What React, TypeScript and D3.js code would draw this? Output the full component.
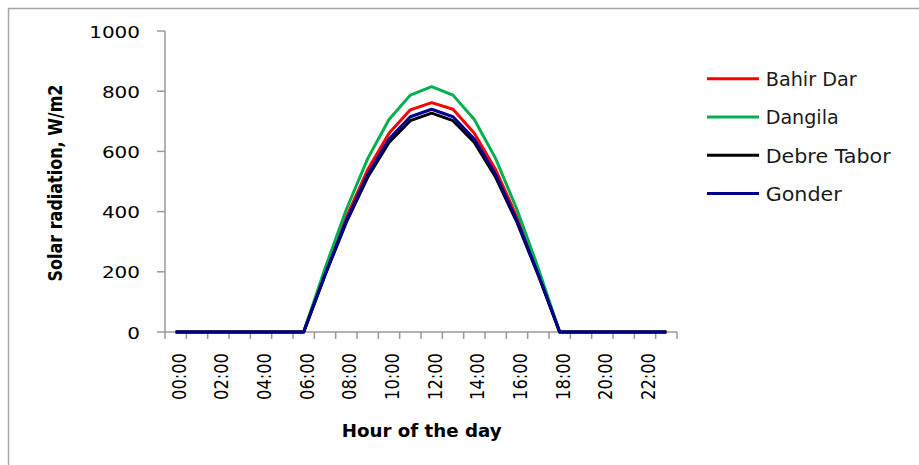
import React from "react";
import * as d3 from "d3";

const categories = [
  "00:00", "01:00", "02:00", "03:00", "04:00", "05:00", "06:00", "07:00",
  "08:00", "09:00", "10:00", "11:00", "12:00", "13:00", "14:00", "15:00",
  "16:00", "17:00", "18:00", "19:00", "20:00", "21:00", "22:00", "23:00",
];
const bahirDar = [0, 0, 0, 0, 0, 0, 0, 197, 381, 539, 660, 738, 762, 740, 660, 539, 381, 197, 0, 0, 0, 0, 0, 0];
const dangila = [0, 0, 0, 0, 0, 0, 0, 211, 407, 576, 706, 787, 815, 787, 706, 576, 407, 211, 0, 0, 0, 0, 0, 0];
const debreTabor = [0, 0, 0, 0, 0, 0, 0, 188, 364, 514, 630, 702, 727, 702, 630, 514, 364, 188, 0, 0, 0, 0, 0, 0];
const gonder = [0, 0, 0, 0, 0, 0, 0, 191, 370, 523, 641, 715, 740, 715, 641, 523, 370, 191, 0, 0, 0, 0, 0, 0];
const yTicks = [0, 200, 400, 600, 800, 1000];
const seriesNames = ["Bahir Dar", "Dangila", "Debre Tabor", "Gonder"];
const seriesColors = ["#ff0000", "#00b050", "#000000", "#000090"];

const FONT = "'DejaVu Sans', Verdana, sans-serif";

export default function App() {
  const series = [bahirDar, dangila, debreTabor, gonder];
  const x = d3.scaleBand<string>().domain(categories).range([165, 677]).padding(0);
  const bw = x.bandwidth();
  const cx = (c: string) => (x(c) as number) + bw / 2;
  const y = d3.scaleLinear().domain([0, 1000]).range([332, 31]);
  const line = d3
    .line<number>()
    .x((_, i) => cx(categories[i]))
    .y((d) => y(d));

  const axisColor = "#9a9a9a";
  const boundaries = categories.map((c) => x(c) as number).concat([677]);
  const legendTextLen = [91, 73, 125, 76];

  return (
    <svg
      width={919}
      height={465}
      style={{ position: "absolute", left: 0, top: 0, background: "#fff" }}
    >
      <rect x={0} y={0} width={919} height={465} fill="#fff" />
      <rect x={8.5} y={8.5} width={1000} height={1000} fill="none" stroke="#a6a6a6" strokeWidth={1.5} />

      {/* y axis */}
      <line x1={165} x2={165} y1={y(1000)} y2={y(0)} stroke={axisColor} strokeWidth={1.5} />
      {yTicks.map((t) => (
        <g key={t}>
          <line x1={157} x2={165} y1={y(t)} y2={y(t)} stroke={axisColor} strokeWidth={1.5} />
          <text
            x={140}
            y={y(t) + 6.5}
            textAnchor="end"
            fontFamily={FONT}
            fontSize={16}
            fill="#000"
            textLength={String(t).length * 12.7}
            lengthAdjust="spacingAndGlyphs"
          >
            {t}
          </text>
        </g>
      ))}

      {/* x axis */}
      <line x1={165} x2={677} y1={y(0)} y2={y(0)} stroke={axisColor} strokeWidth={1.5} />
      {boundaries.map((b, i) => (
        <line key={i} x1={b} x2={b} y1={y(0)} y2={y(0) + 7} stroke={axisColor} strokeWidth={1.5} />
      ))}
      {categories.map((c, i) =>
        i % 2 === 0 ? (
          <text
            key={c}
            transform={`translate(${cx(c) + 10},353) scale(1.25,1) rotate(-90)`}
            textAnchor="end"
            fontFamily={FONT}
            fontSize={16}
            fill="#000"
            textLength={47}
            lengthAdjust="spacingAndGlyphs"
          >
            {c}
          </text>
        ) : null
      )}

      {/* axis titles */}
      <text
        transform={`translate(62,183) scale(1.3,1) rotate(-90)`}
        textAnchor="middle"
        fontFamily={FONT}
        fontWeight="bold"
        fontSize={15}
        fill="#000"
        textLength={197}
        lengthAdjust="spacingAndGlyphs"
      >
        Solar radiation, W/m2
      </text>
      <text
        x={421.7}
        y={437}
        textAnchor="middle"
        fontFamily={FONT}
        fontWeight="bold"
        fontSize={17}
        fill="#000"
        textLength={160}
        lengthAdjust="spacingAndGlyphs"
      >
        Hour of the day
      </text>

      {/* series */}
      {series.map((s, i) => (
        <path
          key={seriesNames[i]}
          d={line(s) as string}
          fill="none"
          stroke={seriesColors[i]}
          strokeWidth={3}
          strokeLinejoin="round"
        />
      ))}

      {/* legend */}
      {seriesNames.map((n, i) => {
        const ly = 78.7 + i * 38.3;
        return (
          <g key={n}>
            <line x1={707} x2={759} y1={ly} y2={ly} stroke={seriesColors[i]} strokeWidth={3} />
            <text
              x={765.7}
              y={ly + 7.3}
              fontFamily={FONT}
              fontSize={19}
              fill="#1a1a1a"
              textLength={legendTextLen[i]}
              lengthAdjust="spacingAndGlyphs"
            >
              {n}
            </text>
          </g>
        );
      })}
    </svg>
  );
}
